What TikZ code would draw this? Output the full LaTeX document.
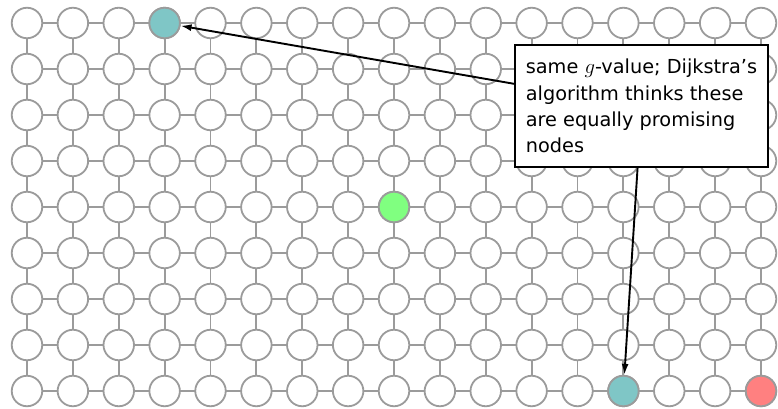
\documentclass[tikz,border=0pt]{standalone}
\usepackage{fontspec}
\setmainfont{DejaVu Sans}
\usetikzlibrary{arrows.meta}
\definecolor{gridgray}{RGB}{155,155,155}
\definecolor{tealfill}{RGB}{127,198,198}
\definecolor{greenfill}{RGB}{128,255,128}
\definecolor{redfill}{RGB}{255,128,128}
\tikzset{
  cell/.style={circle, draw=gridgray, line width=1.8pt, fill=white,
               minimum size=30.5pt, inner sep=0pt},
  link/.style={draw=gridgray, line width=1.8pt},
  pointer/.style={draw=black, line width=1.9pt, -{Latex[length=11pt,width=7pt]}},
  notebox/.style={draw=black, line width=1.9pt, fill=white, align=left,
                  inner xsep=4pt, minimum width=253pt, minimum height=122pt,
                  font=\fontsize{19.3pt}{26.3pt}\selectfont}
}
\begin{document}
\begin{tikzpicture}[x=1pt, y=-1pt]
  \useasboundingbox (0,0) rectangle (778,409);
  % grid links
  \foreach \i in {0,...,16} {
    \foreach \j in {0,...,8} {
      \coordinate (p-\i-\j) at ({27+45.875*\i},{23+46*\j});
    }
  }
  \foreach \i in {0,...,16} {
    \draw[link] (p-\i-0) -- (p-\i-8);
  }
  \foreach \j in {0,...,8} {
    \draw[link] (p-0-\j) -- (p-16-\j);
  }
  % grid cells
  \foreach \i in {0,...,16} {
    \foreach \j in {0,...,8} {
      \node[cell] (n-\i-\j) at (p-\i-\j) {};
    }
  }
  \node[cell, fill=tealfill] at (n-3-0) {};
  \node[cell, fill=tealfill] at (n-13-8) {};
  \node[cell, fill=greenfill] at (n-8-4) {};
  \node[cell, fill=redfill] at (n-16-8) {};
  % annotation
  \coordinate (boxc) at (641.5,106);
  \draw[pointer] (boxc) -- (n-3-0);
  \draw[pointer] (boxc) -- (n-13-8);
  \node[notebox] (note) at (boxc) {same $g$-value; Dijkstra’s\\algorithm thinks these\\are equally promising\\nodes};
\end{tikzpicture}
\end{document}
